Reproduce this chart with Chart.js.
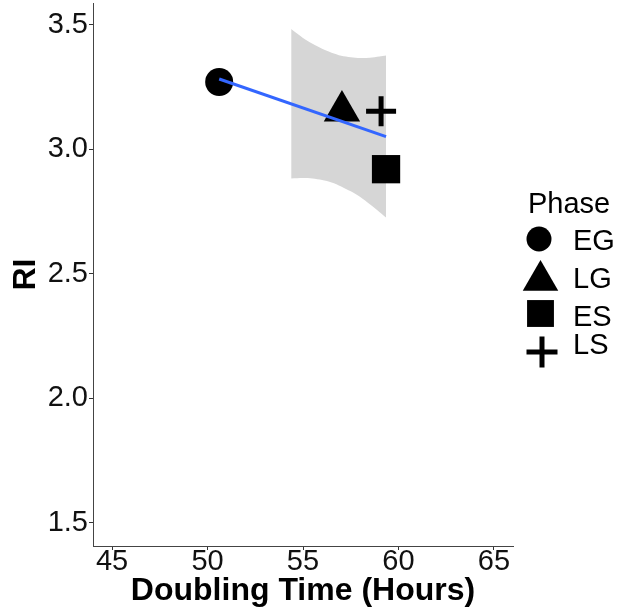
<!DOCTYPE html>
<html>
<head>
<meta charset="utf-8">
<script src="https://cdn.jsdelivr.net/npm/chart.js@4.4.1/dist/chart.umd.min.js"></script>
<style>
  html, body { margin: 0; padding: 0; background: #fff; }
  canvas { display: block; }
</style>
</head>
<body>
<canvas id="chart" width="623" height="615"></canvas>
<script>
const phases = ['EG', 'LG', 'ES', 'LS'];
const doublingTime = [50.61, 57.04, 59.35, 59.09];
const riValue = [3.270, 3.154, 2.920, 3.153];

// linear fit + confidence band (only the part kept inside the y limits)
const fitX = [50.61, 59.35];
const fitY = [3.282, 3.051];
const bandX = [54.38, 55, 55.5, 56, 56.5, 57, 57.5, 58, 58.5, 59, 59.35];
const bandHigh = [3.483, 3.447, 3.423, 3.403, 3.387, 3.375, 3.369, 3.366, 3.367, 3.372, 3.376];
const bandLow = [2.883, 2.885, 2.883, 2.877, 2.867, 2.851, 2.831, 2.808, 2.779, 2.748, 2.726];

const xTicks = [45, 50, 55, 60, 65];
const yTicks = [1.5, 2.0, 2.5, 3.0, 3.5];

const FONT = "'Liberation Sans', Arial, sans-serif";

const markers = {
  EG: { pointStyle: 'circle', radius: 14, borderWidth: 0, legendRadius: 12.5 },
  LG: { pointStyle: 'triangle', radius: 21, borderWidth: 0, legendRadius: 20.5 },
  ES: { pointStyle: 'rect', radius: 20, borderWidth: 0, legendRadius: 19 },
  LS: { pointStyle: 'cross', radius: 15, borderWidth: 5, legendRadius: 15.5 }
};

// legend layout (ggplot style, to the right of the panel)
const legendTitlePos = { x: 528, y: 213 };
const legendMarkerPos = [[539, 239], [540.5, 280.5], [540.5, 313.5], [542, 352]];
const legendTextX = 573;
const legendTextY = [250, 288, 326, 354];

const pointSets = phases.map((p, i) => ({
  label: p,
  data: [{ x: doublingTime[i], y: riValue[i] }],
  pointStyle: markers[p].pointStyle,
  pointRadius: markers[p].radius,
  pointBorderWidth: markers[p].borderWidth,
  backgroundColor: '#000',
  borderColor: '#000',
  order: 1
}));

const phaseLegend = {
  id: 'phaseLegend',
  afterDraw(chart) {
    const ctx = chart.ctx;
    ctx.save();
    ctx.fillStyle = '#000';
    ctx.font = '29px ' + FONT;
    ctx.textBaseline = 'alphabetic';
    ctx.textAlign = 'left';
    ctx.fillText('Phase', legendTitlePos.x, legendTitlePos.y);
    phases.forEach((p, i) => {
      const m = markers[p];
      ctx.fillStyle = '#000';
      ctx.strokeStyle = '#000';
      ctx.lineWidth = m.borderWidth || 1;
      Chart.helpers.drawPoint(ctx, {
        pointStyle: m.pointStyle, radius: m.legendRadius, rotation: 0, borderWidth: m.borderWidth
      }, legendMarkerPos[i][0], legendMarkerPos[i][1]);
      ctx.fillText(p, legendTextX, legendTextY[i]);
    });
    ctx.restore();
  }
};

// no extra room for edge labels: keep the panel where ggplot put it
function noEdgePadding(s) {
  s.paddingTop = 0;
  s.paddingBottom = 0;
  s.paddingLeft = 0;
  s.paddingRight = 0;
}

new Chart(document.getElementById('chart'), {
  type: 'scatter',
  data: {
    datasets: [
      {
        label: 'fit',
        type: 'line',
        showLine: true,
        data: fitX.map((x, i) => ({ x, y: fitY[i] })),
        borderColor: '#3366FF',
        borderWidth: 3,
        pointRadius: 0,
        fill: false,
        order: 0
      },
      ...pointSets,
      {
        label: 'low',
        type: 'line',
        showLine: true,
        data: bandX.map((x, i) => ({ x, y: bandLow[i] })),
        borderColor: 'rgba(0,0,0,0)',
        borderWidth: 0,
        pointRadius: 0,
        fill: false,
        tension: 0.3,
        order: 2
      },
      {
        label: 'high',
        type: 'line',
        showLine: true,
        data: bandX.map((x, i) => ({ x, y: bandHigh[i] })),
        borderColor: 'rgba(0,0,0,0)',
        borderWidth: 0,
        backgroundColor: 'rgb(214,214,214)',
        pointRadius: 0,
        fill: '-1',
        tension: 0.3,
        order: 2
      }
    ]
  },
  options: {
    responsive: false,
    animation: false,
    layout: { autoPadding: false, padding: { top: 3, right: 110, bottom: 0, left: 0 } },
    plugins: {
      legend: { display: false },
      tooltip: { enabled: false },
      filler: { drawTime: 'beforeDatasetsDraw' }
    },
    scales: {
      x: {
        type: 'linear',
        min: 44,
        max: 66,
        afterFit: (s) => { s.height = 69; noEdgePadding(s); },
        afterBuildTicks: (s) => { s.ticks = xTicks.map(v => ({ value: v })); },
        grid: { drawOnChartArea: false, drawTicks: true, tickLength: 4, color: '#333' },
        border: { display: true, color: '#444', width: 1 },
        ticks: {
          color: '#111',
          padding: -3,
          maxRotation: 0,
          font: { family: FONT, size: 29, lineHeight: 1 }
        },
        title: {
          display: true,
          text: 'Doubling Time (Hours)',
          color: '#000',
          font: { family: FONT, size: 32, weight: 'bold' },
          padding: { top: 0, bottom: 5 }
        }
      },
      y: {
        type: 'linear',
        min: 1.4076,
        max: 3.587,
        afterFit: (s) => { s.width = 93; noEdgePadding(s); },
        afterBuildTicks: (s) => { s.ticks = yTicks.map(v => ({ value: v })); },
        grid: { drawOnChartArea: false, drawTicks: true, tickLength: 4, color: '#333' },
        border: { display: true, color: '#444', width: 1 },
        ticks: {
          color: '#111',
          padding: 1,
          callback: (v) => v.toFixed(1),
          font: { family: FONT, size: 29 }
        },
        title: {
          display: true,
          text: 'RI',
          color: '#000',
          font: { family: FONT, size: 32, weight: 'bold' },
          padding: { top: 7, bottom: 0 }
        }
      }
    }
  },
  plugins: [phaseLegend]
});
</script>
</body>
</html>
